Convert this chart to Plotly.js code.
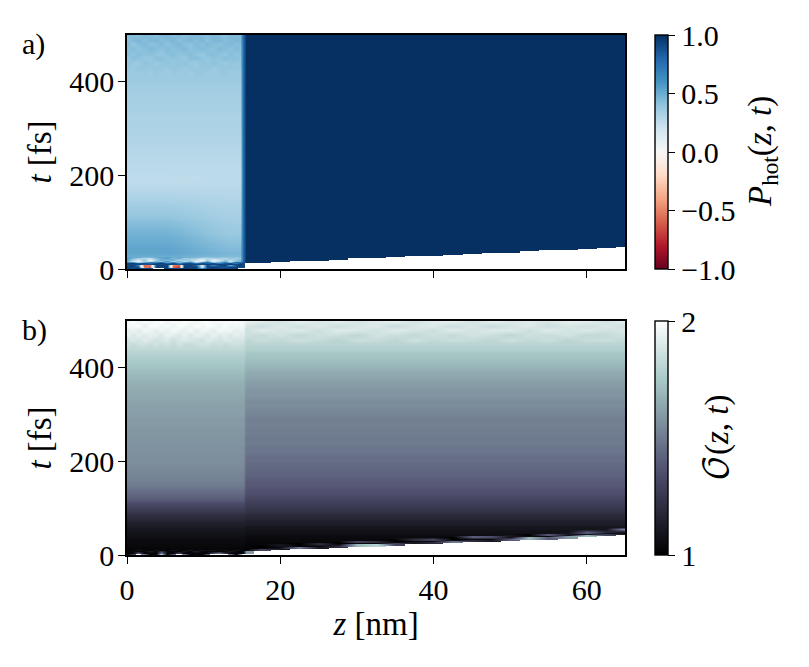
<!DOCTYPE html>
<html>
<head>
<meta charset="utf-8">
<script src="https://cdn.plot.ly/plotly-3.0.1.min.js"></script>
<style>
  body { margin: 0; background: #fff; }
</style>
</head>
<body>
<div id="myplot" style="width:809px;height:667px;"></div>
<script>
// grid, left block then the right block
let z_left = [0, .75, 1.5, 2.25, 3, 3.75, 4.5, 5.25, 6, 6.75, 7.5, 8.25, 9, 9.75, 10.5, 11.25, 12, 12.75, 13.5, 14.25, 14.8, 15.1];
let z_right = [15.5, 17.5, 20, 22.5, 25, 27.5, 30, 32.5, 35, 37.5, 40, 42.5, 45, 47.5, 50, 52.5, 55, 57.5, 60, 62.5, 65];
let t_low = [0, 2.5, 5, 7.5, 10, 12.5, 15, 17.5, 20, 22.5, 25];
let t_high = [27.5, 30, 32.5, 35, 37.5, 40, 42.5, 45, 47.5, 50, 55, 60, 65, 70, 75, 80, 85, 90, 95, 100,
  110, 120, 130, 140, 150, 160, 170, 180, 190, 200, 210, 220, 230, 240, 250, 260, 270, 280, 290, 300,
  310, 320, 330, 340, 350, 360, 370, 380, 390, 400, 410, 420, 430, 440, 450, 460, 470, 480, 490, 500];

// first time with signal, right block
let onset_a = [13, 14, 16, 18, 20, 21.5, 23, 25, 27, 28.5, 30, 32, 34, 35.5, 37, 39, 41, 42.5, 44, 46, 48];
let onset_b = [5, 8, 11, 13, 15, 16.5, 18, 20, 21.5, 23, 25, 26.5, 28, 30, 31.5, 33, 35, 36.5, 38, 40.5, 43];

// panel a, polarisation
let pol_inner = [.50, .51, .52, .53, .53, .53, .53, .53, .52, .52, .51, .50, .50, .49, .48, .47, .46, .45, .44, .43,
  .40, .38, .36, .34, .32, .30, .28, .27, .26, .26, .27, .27, .28, .28, .29, .29, .30, .30, .31, .31,
  .32, .32, .32, .33, .33, .34, .34, .35, .35, .36, .37, .37, .38, .38, .39, .39, .40, .40, .41, .41];
let pol_edge = [.44, .45, .46, .46, .45, .45, .44, .44, .43, .43, .42, .41, .40, .39, .38, .37, .37, .36, .36, .35,
  .34, .33, .32, .31, .30, .29, .28, .27, .27, .27, .27, .27, .28, .28, .29, .29, .30, .30, .31, .31,
  .32, .32, .32, .33, .33, .34, .34, .35, .35, .36, .37, .37, .38, .38, .39, .39, .40, .40, .41, .41];
let edge_mix = [0, 0, 0, 0, 0, 0, 0, 0, .1, .15, .25, .35, .45, .55, .65, .75, .85, .95, 1, 1, 1, 1];
let pol_strip = 0.78;
let pol_right = 1.0;
let pol_bottom = [
  [.95, .95, .95, .9, .9, null, null, .9, .95, .95, .9, .95, .9, .9, .95, .9, .95, .9, .95, .9, null, null],
  [.95, .9, .95, .9, .9, null, null, .95, .9, .9, .95, .95, .9, .6, .9, .95, .9, .95, .9, .95, null, null],
  [.95, .9, .9, -.5, -.6, .95, .9, .95, -.6, -.7, .95, .9, .95, .2, .9, .95, .9, .85, .95, .9, .9, .9],
  [.9, .95, .7, -.6, -.5, .9, .95, .9, -.5, -.6, .9, .95, .8, .1, .9, .7, .9, .95, .5, .9, .95, .9],
  [.95, .9, .95, .85, .9, .95, .9, .95, .9, .85, .95, .9, .95, .9, .95, .9, .95, .9, .95, .9, .95, .9],
  [.9, .95, .85, .9, .8, .9, .95, .8, .9, .7, .85, .9, .75, .9, .8, .9, .7, .85, .9, .7, .9, .9],
  [.7, .6, .3, .5, .7, .6, .8, .5, .7, .4, .6, .7, .3, .6, .8, .4, .5, .7, .4, .8, .7, .85],
  [.5, .2, .1, .35, .2, .5, .4, .6, .3, .5, .25, .45, .1, .2, .5, .15, .3, .5, .2, .45, .5, .8],
  [.55, .3, .15, .4, .1, .35, .5, .45, .5, .3, .4, .3, .2, .05, .35, .1, .2, .4, .25, .4, .45, .78],
  [.55, .45, .35, .3, .25, .45, .5, .55, .45, .5, .35, .4, .35, .25, .3, .3, .35, .3, .4, .35, .4, .78],
  [.55, .5, .5, .45, .45, .5, .52, .55, .5, .52, .48, .48, .45, .42, .4, .42, .42, .4, .42, .4, .42, .78]
];
let pol_top = [
  [-.01, .01, 0, .01, -.01, .02, 0, -.01, .01, 0, .01, -.01, .02, .01, 0, -.01, .01, .02, -.01, 0, 0],
  [.01, -.01, .02, .01, 0, .02, .01, -.01, .02, .01, -.01, .02, 0, .01, .02, -.01, 0, .02, .01, .01, .01],
  [.02, 0, -.01, .03, .02, -.01, .01, .03, 0, .02, .03, 0, -.01, .02, .01, .03, .02, -.01, .02, 0, .02],
  [-.01, .03, .02, 0, -.01, .03, .04, 0, .02, .01, -.01, .03, .04, .01, 0, .02, .01, .04, .02, .03, .01],
  [.03, .01, .04, .02, .03, .01, -.01, .03, .04, .01, .02, .04, .01, -.01, .03, .04, .02, 0, .04, .01, .03],
  [.01, .04, 0, .02, .05, .03, .01, .04, .01, .03, .05, .01, .03, .04, .02, .01, .05, .03, .01, .04, .02],
  [.04, -.01, .03, .05, .01, .02, .05, .01, .04, .05, .02, .01, .04, .02, .05, .03, .01, .04, .05, .02, .03],
  [0, .03, .05, .02, .04, .05, .02, .03, .05, .01, .03, .05, .02, .05, .01, .04, .05, .02, .03, .05, .04],
  [.03, .02, .01, .04, .03, .01, .04, .05, .02, .04, .01, .03, .05, .03, .02, .05, .03, .01, .05, .03, .03]
];

// panel b, occupation
let occ_left = [1.05, 1.05, 1.05, 1.06, 1.06, 1.07, 1.07, 1.08, 1.08, 1.09, 1.10, 1.12, 1.13, 1.15, 1.17, 1.19, 1.21, 1.23, 1.26, 1.29,
  1.33, 1.40, 1.44, 1.47, 1.50, 1.52, 1.53, 1.54, 1.55, 1.56, 1.56, 1.57, 1.57, 1.58, 1.58, 1.59, 1.59, 1.60, 1.60, 1.61,
  1.62, 1.62, 1.63, 1.64, 1.65, 1.66, 1.67, 1.69, 1.71, 1.73, 1.75, 1.77, 1.79, 1.82, 1.85, 1.88, 1.91, 1.94, 1.96, 1.97];
let occ_right_low = [1.03, 1.03, 1.03, 1.03, 1.03, 1.03, 1.03, 1.03, 1.03, 1.03, 1.03];
let occ_right = [1.03, 1.04, 1.04, 1.04, 1.05, 1.05, 1.06, 1.06, 1.07, 1.07, 1.09, 1.10, 1.12, 1.14, 1.15, 1.17, 1.19, 1.21, 1.23, 1.25,
  1.28, 1.31, 1.35, 1.37, 1.39, 1.40, 1.42, 1.43, 1.44, 1.46, 1.46, 1.48, 1.48, 1.50, 1.49, 1.51, 1.51, 1.52, 1.51, 1.53,
  1.54, 1.56, 1.55, 1.58, 1.58, 1.60, 1.61, 1.64, 1.65, 1.68, 1.70, 1.73, 1.74, 1.78, 1.80, 1.83, 1.84, 1.88, 1.87, 1.90];
let occ_right_top = [
  [-.02, .02, -.01, .03, 0, -.03, .02, .01, -.02, .03, -.01, .02, 0, -.02, .03, -.01, .02, -.03, .01, .02, -.01],
  [.02, -.01, .03, -.02, .02, .01, -.03, .03, .01, -.02, .02, -.01, .03, .01, -.03, .02, 0, .03, -.02, -.01, .02],
  [-.03, .03, 0, .02, -.03, .03, .01, -.02, .03, 0, -.03, .03, -.01, .02, .02, -.03, .03, -.01, .02, -.02, .01],
  [.01, -.02, .03, -.01, .03, -.02, .02, .03, -.03, .02, .03, -.02, .02, -.03, .01, .03, -.02, .02, -.01, .03, -.02],
  [.03, .01, -.03, .03, -.01, .02, -.02, 0, .03, -.03, .01, .03, -.03, .03, -.01, .01, -.02, .03, .02, -.03, .02]
];
let occ_tip = [1.6, 1.3, 1.1, 1.5, 1.1, 1.2, 1.7, 1.8, 1.3, 1.1, 1.2, 1.5, 1.2, 1.1, 1.4, 1.7, 1.4, 1.6, 1.7, 1.3, 1.1];
let occ_glint = [1.0, 1.0, 1.1, 1.0, 1.2, 1.0, 1.3, 1.2, 1.0, 1.2, 1.3, 1.0, 1.4, 1.35, 1.1, 1.0, 1.4, 1.1, 1.4, 1.2, 1.6];
let occ_bottom = [
  [1.02, null, null, null, 1.03, 1.02, 1.7, 1.02, null, null, null, 1.02, 1.02, 1.03, null, null, null, null, null, 1.03, null, null],
  [1.02, 1.3, null, 1.5, 1.02, 1.03, 1.8, 1.02, 1.4, null, 1.5, 1.02, 1.03, 1.02, 1.4, null, null, null, 1.5, 1.02, 1.6, null],
  [1.02, 1.03, 1.4, 1.02, 1.02, 1.02, 1.5, 1.03, 1.02, 1.3, 1.02, 1.02, 1.02, 1.03, 1.02, 1.3, 1.5, 1.2, 1.02, 1.02, 1.03, 1.02],
  [1.02, 1.05, 1.02, 1.03, 1.12, 1.02, 1.25, 1.02, 1.03, 1.02, 1.1, 1.02, 1.15, 1.02, 1.05, 1.02, 1.03, 1.02, 1.12, 1.02, 1.02, 1.02],
  [1.02, 1.03, 1.1, 1.02, 1.03, 1.08, 1.02, 1.03, 1.1, 1.02, 1.04, 1.1, 1.02, 1.12, 1.03, 1.1, 1.02, 1.08, 1.02, 1.1, 1.02, 1.02],
  [1.03, 1.02, 1.04, 1.03, 1.02, 1.04, 1.03, 1.02, 1.03, 1.04, 1.02, 1.03, 1.04, 1.02, 1.03, 1.02, 1.04, 1.03, 1.02, 1.03, 1.03, 1.03],
  [1.03, 1.03, 1.03, 1.03, 1.03, 1.03, 1.03, 1.03, 1.03, 1.03, 1.03, 1.03, 1.03, 1.03, 1.03, 1.03, 1.03, 1.03, 1.03, 1.03, 1.03, 1.03],
  [1.03, 1.03, 1.03, 1.03, 1.03, 1.03, 1.03, 1.03, 1.03, 1.03, 1.03, 1.03, 1.03, 1.03, 1.03, 1.03, 1.03, 1.03, 1.03, 1.03, 1.03, 1.03],
  [1.04, 1.04, 1.04, 1.04, 1.04, 1.04, 1.04, 1.04, 1.04, 1.04, 1.04, 1.04, 1.04, 1.04, 1.04, 1.04, 1.04, 1.04, 1.04, 1.04, 1.04, 1.04],
  [1.04, 1.04, 1.04, 1.04, 1.04, 1.04, 1.04, 1.04, 1.04, 1.04, 1.04, 1.04, 1.04, 1.04, 1.04, 1.04, 1.04, 1.04, 1.04, 1.04, 1.04, 1.04],
  [1.05, 1.05, 1.05, 1.05, 1.05, 1.05, 1.05, 1.05, 1.05, 1.05, 1.05, 1.05, 1.05, 1.05, 1.05, 1.05, 1.05, 1.05, 1.05, 1.05, 1.05, 1.05]
];
let occ_top = [
  [.01, -.02, .01, .02, -.01, .02, -.01, .01, -.02, .02, -.01, -.02, .01, .02, .02, -.01, .01, -.02, 0, .01, 0, 0],
  [-.02, .02, -.01, .03, .01, -.02, .01, .02, -.03, .01, .02, .01, -.01, -.02, .03, .01, -.02, .02, .01, -.01, 0, 0],
  [.03, -.02, .02, -.01, .02, .01, -.03, .03, .01, -.02, .03, -.02, .02, .01, -.02, .03, -.01, .01, -.02, .02, 0, 0],
  [-.02, .01, -.03, .03, .01, -.02, .02, -.01, .03, .01, -.02, .03, -.03, .02, .01, -.03, .03, .01, .02, -.02, 0, 0],
  [.02, .01, .03, -.03, .02, .03, -.01, .02, -.02, .03, .01, -.02, .03, -.01, .02, .02, -.02, .03, -.01, .01, 0, 0],
  [-.01, .03, -.02, .02, -.01, .01, .03, -.02, .02, -.01, .03, .01, -.02, .02, .03, -.01, .01, -.01, .02, .01, 0, 0]
];

let tick_z = [0, 20, 40, 60];
let tick_t = [0, 200, 400];
let tick_pol = [-1, -0.5, 0, 0.5, 1];
let tick_pol_text = ['\u22121.0', '\u22120.5', '0.0', '0.5', '1.0'];
let tick_occ = [1, 2];

let rdbu = [[0, '#67001f'], [.1, '#b2182b'], [.2, '#d6604d'], [.3, '#f4a582'], [.4, '#fddbc7'], [.5, '#f7f7f7'],
  [.6, '#d1e5f0'], [.7, '#92c5de'], [.8, '#4393c3'], [.9, '#2166ac'], [1, '#053061']];
let bone = [[0, '#000000'], [.365, '#515171'], [.746, '#a6c8c6'], [1, '#ffffff']];

let z_nm = z_left.concat(z_right);
let t_fs = t_low.concat(t_high);
let n_low = t_low.length;

function grille_pol() {
  return t_fs.map((t, i) => {
    let left;
    if (i < n_low) {
      left = pol_bottom[i];
    } else {
      let k = i - n_low;
      let from_top = pol_top.length - (t_high.length - k);
      left = z_left.map((z, j) => {
        if (j === z_left.length - 1) return pol_strip;
        let v = pol_inner[k] * (1 - edge_mix[j]) + pol_edge[k] * edge_mix[j];
        return from_top >= 0 ? v + pol_top[from_top][j] : v;
      });
    }
    let right = z_right.map((z, j) => t < onset_a[j] ? null : pol_right);
    return left.concat(right);
  });
}

function grille_occ() {
  return t_fs.map((t, i) => {
    let left;
    if (i < n_low) {
      left = occ_bottom[i];
    } else {
      let k = i - n_low;
      let from_top = occ_top.length - (t_high.length - k);
      left = z_left.map((z, j) => from_top >= 0 ? occ_left[k] + occ_top[from_top][j] : occ_left[k]);
    }
    let right = z_right.map((z, j) => {
      let delai = t - onset_b[j];
      if (delai < 0) return null;
      if (delai < 5) return occ_tip[j];
      if (delai >= 7.5 && delai < 12.5) return occ_glint[j];
      if (i < n_low) return occ_right_low[i];
      let k = i - n_low;
      let from_top = occ_right_top.length - (t_high.length - k);
      return from_top >= 0 ? occ_right[k] + occ_right_top[from_top][j] : occ_right[k];
    });
    return left.concat(right);
  });
}

let police = { family: '"Liberation Serif", serif', size: 30, color: '#000' };
let police_titre = { family: '"Liberation Serif", serif', size: 33, color: '#000' };

let data = [{
  type: 'heatmap', x: z_nm, y: t_fs, z: grille_pol(), xaxis: 'x', yaxis: 'y',
  colorscale: rdbu, zmin: -1, zmax: 1, zsmooth: 'best', hoverongaps: false,
  colorbar: {
    x: 655 / 809, xanchor: 'left', y: (667 - 269) / 667, yanchor: 'bottom', len: 234 / 667,
    thickness: 13, xpad: 0, ypad: 0, outlinewidth: 1.4, outlinecolor: '#000',
    ticks: 'outside', ticklen: 7, tickwidth: 1.3, tickcolor: '#000',
    tickmode: 'array', tickvals: tick_pol, ticktext: tick_pol_text, tickfont: police
  }
}, {
  type: 'heatmap', x: z_nm, y: t_fs, z: grille_occ(), xaxis: 'x2', yaxis: 'y2',
  colorscale: bone, zmin: 1, zmax: 2, zsmooth: 'best', hoverongaps: false,
  colorbar: {
    x: 655 / 809, xanchor: 'left', y: (667 - 555) / 667, yanchor: 'bottom', len: 234 / 667,
    thickness: 13, xpad: 0, ypad: 0, outlinewidth: 1.4, outlinecolor: '#000',
    ticks: 'outside', ticklen: 7, tickwidth: 1.3, tickcolor: '#000',
    tickmode: 'array', tickvals: tick_occ, ticktext: ['1', '2'], tickfont: police
  }
}];

let axe_x = {
  range: [0, 65], tickmode: 'array', tickvals: tick_z, ticks: 'outside', ticklen: 7, tickwidth: 1.3,
  tickcolor: '#000', showline: true, mirror: true, linecolor: '#000', linewidth: 1.5,
  showgrid: false, zeroline: false, tickfont: police
};
let axe_y = {
  range: [0, 500], tickmode: 'array', tickvals: tick_t, ticks: 'outside', ticklen: 7, tickwidth: 1.3,
  tickcolor: '#000', showline: true, mirror: true, linecolor: '#000', linewidth: 1.5,
  showgrid: false, zeroline: false, tickfont: police, ticklabelstandoff: -2,
  title: { text: '<i>t</i> [fs]', font: police_titre, standoff: 8 }
};

let forme = {
  width: 809, height: 667, autosize: false,
  margin: { l: 0, r: 0, t: 0, b: 0 },
  paper_bgcolor: '#fff', plot_bgcolor: '#fff',
  showlegend: false,
  xaxis: Object.assign({}, axe_x, { domain: [127 / 809, 625 / 809], anchor: 'y', showticklabels: false }),
  yaxis: Object.assign({}, axe_y, { domain: [(667 - 269) / 667, (667 - 35) / 667], anchor: 'x' }),
  xaxis2: Object.assign({}, axe_x, { domain: [127 / 809, 625 / 809], anchor: 'y2',
    title: { text: '<i>z</i> [nm]', font: police_titre, standoff: 6 } }),
  yaxis2: Object.assign({}, axe_y, { domain: [(667 - 555) / 667, (667 - 321) / 667], anchor: 'x2' }),
  annotations: [
    { text: 'a)', xref: 'paper', yref: 'paper', x: 20 / 809, y: (667 - 44) / 667, xanchor: 'left', yanchor: 'middle', showarrow: false, font: police },
    { text: 'b)', xref: 'paper', yref: 'paper', x: 20 / 809, y: (667 - 330) / 667, xanchor: 'left', yanchor: 'middle', showarrow: false, font: police },
    { text: '<i>P</i><sub>hot</sub>(<i>z</i>, <i>t</i>)', xref: 'paper', yref: 'paper', x: 763 / 809, y: (667 - 152) / 667, xanchor: 'center', yanchor: 'middle', showarrow: false, textangle: -90, font: police_titre },
    { text: '<span style="font-family:\'DejaVu Math TeX Gyre\'">\uD835\uDCAA</span>(<i>z</i>, <i>t</i>)', xref: 'paper', yref: 'paper', x: 717 / 809, y: (667 - 438) / 667, xanchor: 'center', yanchor: 'middle', showarrow: false, textangle: -90, font: police_titre }
  ]
};

Plotly.newPlot('myplot', data, forme, { displayModeBar: false });
</script>
</body>
</html>
